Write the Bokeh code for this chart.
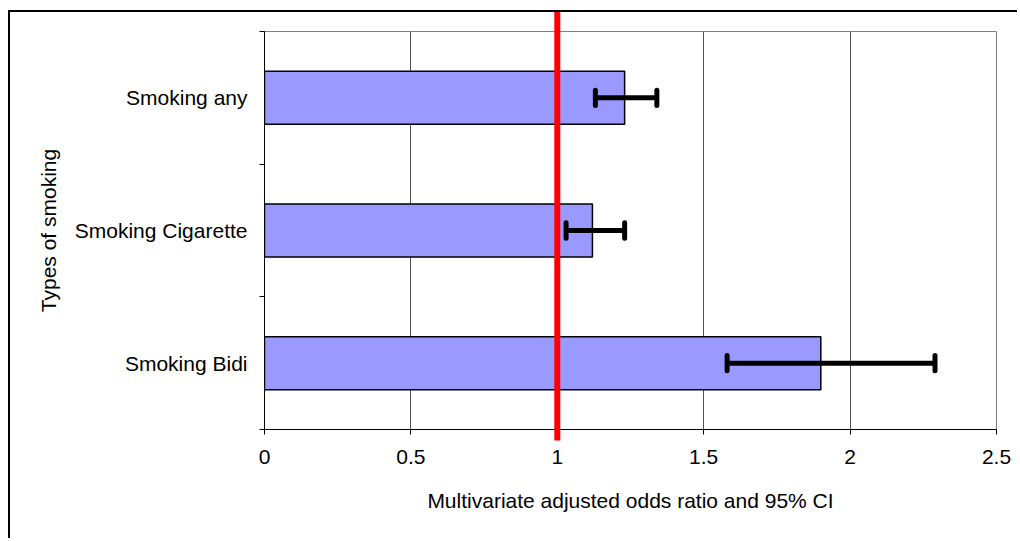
from bokeh.plotting import figure
from bokeh.models import Range1d, FixedTicker, ColumnDataSource
from bokeh.embed import file_html
from bokeh.resources import INLINE

# ---- data ----
categories = ["Smoking any", "Smoking Cigarette", "Smoking Bidi"]
odds_ratio = [1.23, 1.12, 1.90]
ci_lower = [1.13, 1.03, 1.58]
ci_upper = [1.34, 1.23, 2.29]
x_ticks = [0, 0.5, 1, 1.5, 2, 2.5]
x_tick_labels = ["0", "0.5", "1", "1.5", "2", "2.5"]
reference_value = 1
x_title = "Multivariate adjusted odds ratio and 95% CI"
y_title = "Types of smoking"

# ---- styles ----
FONT = "Liberation Sans"
FS = "21px"
BAR_FILL = "#9999FF"
BAR_HEIGHT = 0.4
CAP_HALF = 0.058
REF_EXT_TOP = 0.15
REF_EXT_BOTTOM = 0.083

n = len(categories)
ypos = [n - i - 0.5 for i in range(n)]
band_edges = list(range(n + 1))

src = ColumnDataSource(dict(
    y=ypos, cat=categories, orv=odds_ratio, lo=ci_lower, hi=ci_upper,
    cb=[v - CAP_HALF for v in ypos], ct=[v + CAP_HALF for v in ypos],
))

p = figure(width=1009, height=528,
           x_range=Range1d(x_ticks[0], x_ticks[-1]), y_range=Range1d(0, n),
           output_backend="svg", toolbar_location=None,
           min_border_left=254, min_border_right=23,
           min_border_top=19, min_border_bottom=111)
p.styles = {"border-left": "2px solid black", "border-top": "2px solid black",
            "margin-top": "10px", "margin-left": "8px"}

p.background_fill_color = "white"
p.border_fill_color = "white"
p.outline_line_color = "#808080"
p.outline_line_width = 1

# grid
p.ygrid.visible = False
p.xgrid.ticker = FixedTicker(ticks=x_ticks)
p.xgrid.grid_line_color = "#555555"
p.xgrid.grid_line_width = 1

# x axis
xa = p.xaxis[0]
xa.ticker = FixedTicker(ticks=x_ticks)
xa.major_label_overrides = {t: l for t, l in zip(x_ticks, x_tick_labels)}
xa.major_tick_out = 5
xa.major_tick_in = 0
xa.minor_tick_out = 0
xa.minor_tick_in = 0
xa.axis_line_color = "black"
xa.major_tick_line_color = "black"
xa.major_label_text_font = FONT
xa.major_label_text_font_size = FS
xa.major_label_text_color = "black"
xa.major_label_standoff = 15
xa.axis_label = x_title
xa.axis_label_text_font = FONT
xa.axis_label_text_font_size = FS
xa.axis_label_text_font_style = "normal"
xa.axis_label_text_color = "black"
xa.axis_label_standoff = 22

# y axis
ya = p.yaxis[0]
ya.ticker = FixedTicker(ticks=ypos, minor_ticks=band_edges)
ya.major_label_overrides = {y: c for y, c in zip(ypos, categories)}
ya.major_tick_out = 0
ya.major_tick_in = 0
ya.minor_tick_out = 5
ya.minor_tick_in = 0
ya.minor_tick_line_color = "black"
ya.axis_line_color = "black"
ya.major_label_text_font = FONT
ya.major_label_text_font_size = FS
ya.major_label_text_color = "black"
ya.major_label_standoff = 12
ya.axis_label = y_title
ya.axis_label_text_font = FONT
ya.axis_label_text_font_size = FS
ya.axis_label_text_font_style = "normal"
ya.axis_label_text_color = "black"
ya.axis_label_standoff = 12

# bars
p.hbar(y="y", left=0, right="orv", height=BAR_HEIGHT, source=src,
       fill_color=BAR_FILL, line_color="black", line_width=1.5)

# reference line
p.segment(x0=reference_value, x1=reference_value, y0=-REF_EXT_BOTTOM, y1=n + REF_EXT_TOP,
          line_color="#FF0000", line_width=6, level="overlay")

# error bars
p.segment(x0="lo", x1="hi", y0="y", y1="y", source=src, line_color="black", line_width=5)
p.segment(x0="lo", x1="lo", y0="cb", y1="ct", source=src, line_color="black",
          line_width=5, line_cap="round")
p.segment(x0="hi", x1="hi", y0="cb", y1="ct", source=src, line_color="black",
          line_width=5, line_cap="round")

open("out.html", "w").write(file_html(p, INLINE))
